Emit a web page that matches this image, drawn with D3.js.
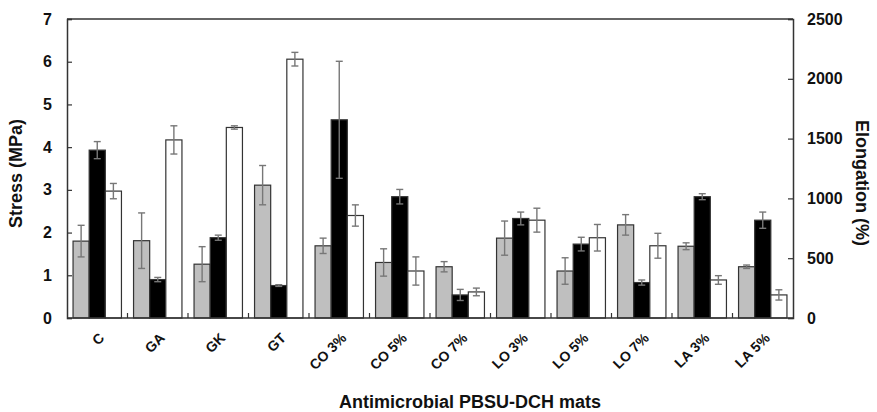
<!DOCTYPE html>
<html>
<head>
<meta charset="utf-8">
<script src="https://cdn.jsdelivr.net/npm/d3@7"></script>
<style>
  body { margin: 0; background: #fff; }
  text { font-family: "Liberation Sans", Arial, sans-serif; fill: #111; }
</style>
</head>
<body>
<svg width="877" height="412"></svg>
<script>
// sample names
const mats = ['C', 'GA', 'GK', 'GT', 'CO 3%', 'CO 5%', 'CO 7%', 'LO 3%', 'LO 5%', 'LO 7%', 'LA 3%', 'LA 5%'];

// gray bars (MPa, left axis)
const grayVals = [1.80, 1.81, 1.26, 3.11, 1.69, 1.30, 1.20, 1.87, 1.10, 2.18, 1.68, 1.20];
const grayErr  = [0.37, 0.65, 0.41, 0.46, 0.18, 0.32, 0.12, 0.40, 0.31, 0.24, 0.08, 0.04];

// black bars (MPa, left axis)
const blackVals = [3.93, 0.90, 1.88, 0.76, 4.64, 2.84, 0.54, 2.33, 1.73, 0.83, 2.84, 2.29];
const blackErr  = [0.20, 0.05, 0.06, 0.02, 1.37, 0.17, 0.13, 0.15, 0.16, 0.06, 0.07, 0.19];

// white bars (elongation %, right axis)
const whiteVals = [1061, 1489, 1593, 2164, 857, 393, 218, 818, 671, 604, 318, 193];
const whiteErr  = [64, 118, 14, 57, 89, 118, 32, 100, 111, 104, 36, 43];

const stressTicks = [0, 1, 2, 3, 4, 5, 6, 7];
const elongTicks = [0, 500, 1000, 1500, 2000, 2500];

const svg = d3.select('svg');
const margin = { top: 19, right: 84, bottom: 94, left: 67 };
const width = 877 - margin.left - margin.right;
const height = 412 - margin.top - margin.bottom;

const g = svg.append('g')
  .attr('transform', `translate(${margin.left},${margin.top})`);

const x = d3.scaleBand().domain(mats).range([0, width])
  .paddingInner(0.2).paddingOuter(0.1);
const xs = d3.scaleBand().domain(['gray', 'black', 'white']).range([0, x.bandwidth()]);
const yS = d3.scaleLinear().domain([0, 7]).range([height, 0]);
const yE = d3.scaleLinear().domain([0, 2500]).range([height, 0]);

const series = [
  { key: 'gray', vals: grayVals, err: grayErr, y: yS, fill: '#bfbfbf' },
  { key: 'black', vals: blackVals, err: blackErr, y: yS, fill: '#000' },
  { key: 'white', vals: whiteVals, err: whiteErr, y: yE, fill: '#fff' }
];

series.forEach(s => {
  const rows = mats.map((m, i) => ({ m, v: s.vals[i], e: s.err[i] }));
  const grp = g.append('g').attr('class', 'bars-' + s.key);
  grp.selectAll('rect')
    .data(rows)
    .enter()
    .append('rect')
    .attr('x', d => x(d.m) + xs(s.key))
    .attr('y', d => s.y(d.v))
    .attr('width', xs.bandwidth())
    .attr('height', d => height - s.y(d.v))
    .attr('fill', s.fill)
    .attr('stroke', '#333')
    .attr('stroke-width', 1.2);

  // error bars
  const eb = grp.selectAll('g.err')
    .data(rows)
    .enter()
    .append('g')
    .attr('class', 'err')
    .attr('stroke', '#777')
    .attr('stroke-width', 1.4);
  const cx = d => x(d.m) + xs(s.key) + xs.bandwidth() / 2;
  eb.append('line')
    .attr('x1', cx).attr('x2', cx)
    .attr('y1', d => s.y(d.v + d.e)).attr('y2', d => s.y(d.v - d.e));
  eb.append('line')
    .attr('x1', d => cx(d) - 3.5).attr('x2', d => cx(d) + 3.5)
    .attr('y1', d => s.y(d.v + d.e)).attr('y2', d => s.y(d.v + d.e));
  eb.append('line')
    .attr('x1', d => cx(d) - 3.5).attr('x2', d => cx(d) + 3.5)
    .attr('y1', d => s.y(d.v - d.e)).attr('y2', d => s.y(d.v - d.e));
});

// left axis
const leftAxis = g.append('g')
  .call(d3.axisLeft(yS).tickValues(stressTicks).tickFormat(d3.format('d'))
    .tickSize(-5).tickPadding(15));
// right axis
const rightAxis = g.append('g')
  .attr('transform', `translate(${width},0)`)
  .call(d3.axisRight(yE).tickValues(elongTicks).tickFormat(d3.format('d'))
    .tickSize(-5).tickPadding(14));
[leftAxis, rightAxis].forEach(a => {
  a.select('.domain').attr('stroke', '#333').attr('stroke-width', 1.5);
  a.selectAll('.tick line').attr('stroke', '#333').attr('stroke-width', 1.2);
  a.selectAll('.tick text')
    .attr('font-size', 16).attr('font-weight', 'bold')
    .attr('font-family', '"Liberation Sans", Arial, sans-serif')
    .attr('fill', '#111');
});

// top border
g.append('line')
  .attr('x1', 0).attr('x2', width).attr('y1', 0).attr('y2', 0)
  .attr('stroke', '#333').attr('stroke-width', 1.5);

// bottom axis: ticks between groups, pointing up
const step = x.step();
const bounds = d3.range(1, mats.length).map(i => x(mats[i]) - step * x.paddingInner() / 2);
g.append('line')
  .attr('x1', 0).attr('x2', width).attr('y1', height).attr('y2', height)
  .attr('stroke', '#333').attr('stroke-width', 1.5);
g.append('g').selectAll('line')
  .data(bounds)
  .enter()
  .append('line')
  .attr('x1', d => d).attr('x2', d => d)
  .attr('y1', height).attr('y2', height - 5)
  .attr('stroke', '#333').attr('stroke-width', 1.2);

// rotated category labels
g.append('g').selectAll('text')
  .data(mats)
  .enter()
  .append('text')
  .attr('transform', d => `translate(${x(d) + x.bandwidth() / 2 + 1},${height + 14}) rotate(-45)`)
  .attr('text-anchor', 'end')
  .attr('dy', '0.7em')
  .attr('font-size', 14)
  .attr('font-weight', 'bold')
  .text(d => d);

// axis titles
svg.append('text')
  .attr('transform', `translate(22,${margin.top + height / 2 + 5}) rotate(-90)`)
  .attr('text-anchor', 'middle')
  .attr('font-size', 18).attr('font-weight', 'bold')
  .text('Stress (MPa)');

svg.append('text')
  .attr('transform', `translate(856,183) rotate(90)`)
  .attr('text-anchor', 'middle')
  .attr('font-size', 18).attr('font-weight', 'bold')
  .text('Elongation (%)');

svg.append('text')
  .attr('x', 470).attr('y', 408)
  .attr('text-anchor', 'middle')
  .attr('font-size', 18).attr('font-weight', 'bold')
  .text('Antimicrobial  PBSU-DCH mats');
</script>
</body>
</html>
